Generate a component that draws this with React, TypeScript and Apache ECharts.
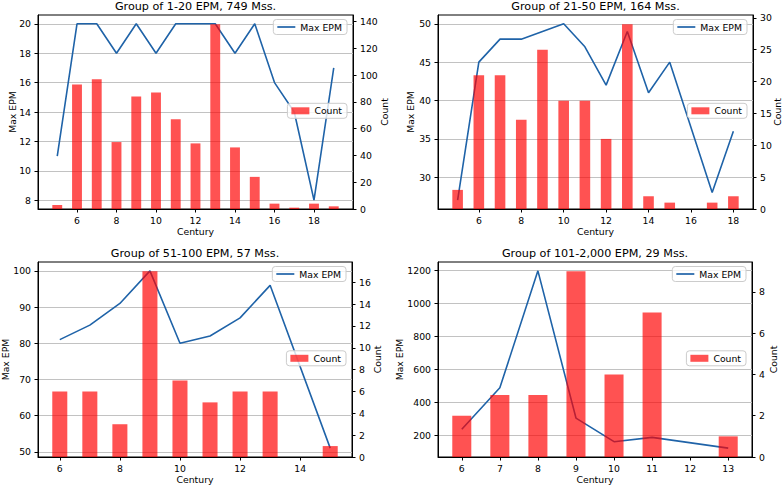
import React, { useEffect, useRef } from 'react';
import * as echarts from 'echarts';

// Group of 1-20 EPM
const centuries1 = [5, 6, 7, 8, 9, 10, 11, 12, 13, 14, 15, 16, 17, 18, 19];
const maxEpm1 = [11, 20, 20, 18, 20, 18, 20, 20, 20, 18, 20, 16, 14, 8, 17];
const count1 = [3, 93, 97, 50, 84, 87, 67, 49, 138, 46, 24, 4, 1, 4, 2];
const xTicks1 = [6, 8, 10, 12, 14, 16, 18];
const leftTicks1 = [8, 10, 12, 14, 16, 18, 20];
const rightTicks1 = [0, 20, 40, 60, 80, 100, 120, 140];

// Group of 21-50 EPM
const centuries2 = [5, 6, 7, 8, 9, 10, 11, 12, 13, 14, 15, 17, 18];
const maxEpm2 = [27, 45, 48, 48, 49, 50, 47, 42, 49, 41, 45, 28, 36];
const count2 = [3, 21, 21, 14, 25, 17, 17, 11, 29, 2, 1, 1, 2];
const xTicks2 = [6, 8, 10, 12, 14, 16, 18];
const leftTicks2 = [30, 35, 40, 45, 50];
const rightTicks2 = [0, 5, 10, 15, 20, 25, 30];

// Group of 51-100 EPM
const centuries3 = [6, 7, 8, 9, 10, 11, 12, 13, 15];
const maxEpm3 = [81, 85, 91, 100, 80, 82, 87, 96, 51];
const count3 = [6, 6, 3, 17, 7, 5, 6, 6, 1];
const xTicks3 = [6, 8, 10, 12, 14];
const leftTicks3 = [50, 60, 70, 80, 90, 100];
const rightTicks3 = [0, 2, 4, 6, 8, 10, 12, 14, 16];

// Group of 101-2,000 EPM
const centuries4 = [6, 7, 8, 9, 10, 11, 13];
const maxEpm4 = [237, 488, 1196, 305, 162, 188, 123];
const count4 = [2, 3, 3, 9, 4, 7, 1];
const xTicks4 = [6, 7, 8, 9, 10, 11, 12, 13];
const leftTicks4 = [200, 400, 600, 800, 1000, 1200];
const rightTicks4 = [0, 2, 4, 6, 8];

const titles = [
  'Group of 1-20 EPM, 749 Mss.',
  'Group of 21-50 EPM, 164 Mss.',
  'Group of 51-100 EPM, 57 Mss.',
  'Group of 101-2,000 EPM, 29 Mss.',
];

const W = 782;
const H = 488;
const FONT = 'DejaVu Sans';
const LINE_COLOR = '#1f63a8';
const BAR_COLOR = 'rgba(255, 0, 0, 0.68)';

const panels = [
  { title: titles[0], centuries: centuries1, maxEpm: maxEpm1, count: count1, xTicks: xTicks1, leftTicks: leftTicks1, rightTicks: rightTicks1,
    box: { left: 38, top: 15, width: 315, height: 194 }, leftGap: 21, rightGap: 27 },
  { title: titles[1], centuries: centuries2, maxEpm: maxEpm2, count: count2, xTicks: xTicks2, leftTicks: leftTicks2, rightTicks: rightTicks2,
    box: { left: 438, top: 15, width: 315, height: 194 }, leftGap: 23, rightGap: 19.5 },
  { title: titles[2], centuries: centuries3, maxEpm: maxEpm3, count: count3, xTicks: xTicks3, leftTicks: leftTicks3, rightTicks: rightTicks3,
    box: { left: 38, top: 262, width: 314, height: 195 }, leftGap: 28, rightGap: 20.5 },
  { title: titles[3], centuries: centuries4, maxEpm: maxEpm4, count: count4, xTicks: xTicks4, leftTicks: leftTicks4, rightTicks: rightTicks4,
    box: { left: 438, top: 262, width: 314, height: 195 }, leftGap: 34.5, rightGap: 16.5 },
];

// Axis extents padded by 5% on each side, like an autoscaled plot
function pad(lo: number, hi: number): [number, number] {
  const m = (hi - lo) * 0.05;
  return [lo - m, hi + m];
}

const tickText = { fontFamily: FONT, fontSize: 9.3, color: '#000' };
const plain = (v: number) => String(v);

function buildOption() {
  const grid: any[] = [];
  const xAxis: any[] = [];
  const yAxis: any[] = [];
  const series: any[] = [];
  const legend: any[] = [];
  const graphic: any[] = [];

  panels.forEach((p, i) => {
    const b = p.box;
    grid.push({
      left: b.left, top: b.top, width: b.width, height: b.height,
      show: true, borderColor: '#000', borderWidth: 1, backgroundColor: 'transparent',
      containLabel: false, outerBoundsMode: 'none',
    });

    const [xMin, xMax] = pad(Math.min(...p.centuries) - 0.25, Math.max(...p.centuries) + 0.25);
    const [lMin, lMax] = pad(Math.min(...p.maxEpm), Math.max(...p.maxEpm));
    const rMax = Math.max(...p.count) * 1.05;

    xAxis.push({
      type: 'value', gridIndex: i, min: xMin, max: xMax,
      name: 'Century', nameLocation: 'middle', nameGap: 18, nameMoveOverlap: false,
      nameTextStyle: { ...tickText },
      axisLine: { show: true, onZero: false, lineStyle: { color: '#000', width: 1 } },
      axisTick: { show: true, customValues: p.xTicks, length: 3.5, lineStyle: { color: '#000' } },
      axisLabel: { customValues: p.xTicks, margin: 7, formatter: plain, ...tickText },
      splitLine: { show: false },
    });

    yAxis.push({
      type: 'value', gridIndex: i, position: 'left', min: lMin, max: lMax,
      name: 'Max EPM', nameLocation: 'middle', nameGap: p.leftGap, nameMoveOverlap: false,
      nameTextStyle: { ...tickText },
      axisLine: { show: true, onZero: false, lineStyle: { color: '#000', width: 1 } },
      axisTick: { show: true, customValues: p.leftTicks, length: 3.5, lineStyle: { color: '#000' } },
      axisLabel: { customValues: p.leftTicks, margin: 7, formatter: plain, ...tickText },
      splitLine: { show: true, lineStyle: { color: '#c2c2c2', width: 1 } },
    });
    yAxis.push({
      type: 'value', gridIndex: i, position: 'right', min: 0, max: rMax,
      name: 'Count', nameLocation: 'middle', nameGap: p.rightGap, nameMoveOverlap: false,
      nameTextStyle: { ...tickText },
      axisLine: { show: true, onZero: false, lineStyle: { color: '#000', width: 1 } },
      axisTick: { show: true, customValues: p.rightTicks, length: 3.5, lineStyle: { color: '#000' } },
      axisLabel: { customValues: p.rightTicks, margin: 7, formatter: plain, ...tickText },
      splitLine: { show: false },
    });

    series.push({
      type: 'line', name: 'Max EPM', xAxisIndex: i, yAxisIndex: 2 * i,
      data: p.centuries.map((c, k) => [c, p.maxEpm[k]]),
      symbol: 'none', z: 2,
      lineStyle: { color: LINE_COLOR, width: 1.6 },
      itemStyle: { color: LINE_COLOR },
    });
    series.push({
      type: 'bar', name: 'Count', xAxisIndex: i, yAxisIndex: 2 * i + 1,
      data: p.centuries.map((c, k) => [c, p.count[k]]),
      barWidth: '50%', z: 3,
      itemStyle: { color: BAR_COLOR },
    });

    const right = W - (b.left + b.width) + 6;
    const legendBase = {
      orient: 'horizontal', right, padding: [3, 5, 3, 4],
      itemWidth: 18, itemGap: 5,
      backgroundColor: 'rgba(255,255,255,0.8)', borderColor: '#cccccc', borderWidth: 1, borderRadius: 3,
      textStyle: { ...tickText }, selectedMode: false,
    };
    legend.push({ ...legendBase, itemHeight: 1.7, data: [{ name: 'Max EPM', icon: 'rect' }], top: b.top + 4.5 });
    legend.push({ ...legendBase, itemHeight: 7, data: [{ name: 'Count', icon: 'rect' }], top: b.top + b.height / 2 - 8.7 });

    graphic.push({
      type: 'text', x: b.left + b.width / 2, y: b.top - 9,
      style: { text: p.title, fontFamily: FONT, fontSize: 11.2, fill: '#000', align: 'center', verticalAlign: 'middle' },
    });
  });

  return {
    animation: false,
    backgroundColor: '#fff',
    grid, xAxis, yAxis, series, legend, graphic,
  };
}

export default function App() {
  const ref = useRef<HTMLDivElement>(null);
  useEffect(() => {
    if (!ref.current) return;
    const chart = echarts.init(ref.current, null, { renderer: 'svg' });
    chart.setOption(buildOption() as any);
    return () => chart.dispose();
  }, []);
  return <div ref={ref} style={{ position: 'fixed', left: 0, top: 0, width: W, height: H }} />;
}
